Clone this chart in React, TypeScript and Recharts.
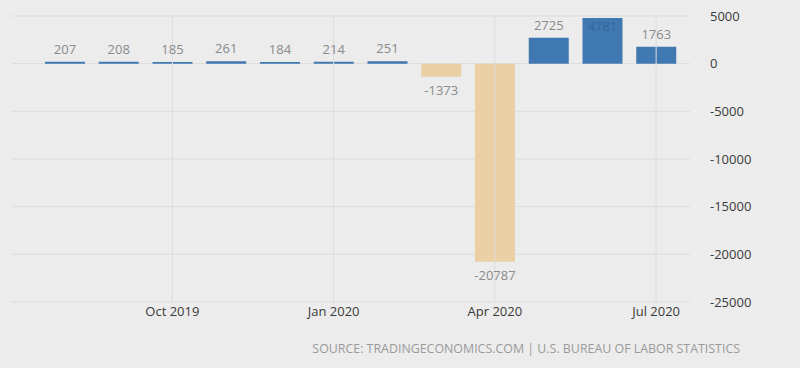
import { BarChart, Bar, XAxis, YAxis, CartesianGrid, Cell, LabelList, ReferenceLine } from 'recharts';

const months = [
  'Aug 2019', 'Sep 2019', 'Oct 2019', 'Nov 2019', 'Dec 2019', 'Jan 2020',
  'Feb 2020', 'Mar 2020', 'Apr 2020', 'May 2020', 'Jun 2020', 'Jul 2020',
];
const payrolls = [207, 208, 185, 261, 184, 214, 251, -1373, -20787, 2725, 4781, 1763];
const xTicks = ['Oct 2019', 'Jan 2020', 'Apr 2020', 'Jul 2020'];
const yTicks = [5000, 0, -5000, -10000, -15000, -20000, -25000];

const data = months.map((m, i) => ({ month: m, value: payrolls[i] }));

const FONT = '"Open Sans", "Noto Sans", sans-serif';

// value label: above positive bars, below negative ones, inside when no room on top
function ValueLabel(props: any) {
  const { x, y, width, height, value } = props;
  const cx = x + width / 2;
  const top = Math.min(y, y + height);
  const bottom = Math.max(y, y + height);
  let ty = value >= 0 ? top - 13 : bottom + 13;
  let fill = '#8a8a8a';
  if (value >= 0 && ty < 20) {
    ty = top + 8;
    fill = '#35689a';
  }
  return (
    <text x={cx} y={ty} textAnchor="middle" dominantBaseline="central" fill={fill} fontSize={13} fontFamily={FONT}>
      {value}
    </text>
  );
}

export default function App() {
  return (
    <div style={{ position: 'fixed', left: 0, top: 0, width: 800, height: 368, background: '#ececec' }}>
      <BarChart width={800} height={368} data={data} margin={{ top: 16, right: 40, left: 12, bottom: 36 }}>
        <CartesianGrid stroke="#dcdcdc" strokeWidth={1} vertical={false} />
        {xTicks.map((t) => (
          <ReferenceLine key={t} x={t} stroke="#dcdcdc" strokeWidth={1} />
        ))}
        <XAxis
          dataKey="month"
          ticks={xTicks}
          interval={0}
          axisLine={false}
          tickLine={false}
          tickSize={0}
          tickMargin={5}
          height={30}
          padding={{ left: 26, right: 7 }}
          tick={{ fill: '#3a3a3a', fontSize: 13, fontFamily: FONT }}
        />
        <YAxis
          orientation="right"
          domain={[-25000, 5000]}
          ticks={yTicks}
          interval={0}
          axisLine={false}
          tickLine={false}
          tickSize={0}
          tickMargin={20}
          width={70}
          tick={{ fill: '#3a3a3a', fontSize: 13, fontFamily: FONT, textAnchor: 'start' }}
        />
        <Bar dataKey="value" barSize={40} isAnimationActive={false}>
          {data.map((d) => (
            <Cell key={d.month} fill={d.value < 0 ? '#ead0a4' : '#4079b1'} />
          ))}
          <LabelList dataKey="value" content={ValueLabel} />
        </Bar>
      </BarChart>
      <div
        style={{
          position: 'absolute',
          right: 60,
          top: 340,
          fontFamily: FONT,
          fontSize: 12.4,
          color: '#9a9a9a',
          whiteSpace: 'nowrap',
        }}
      >
        SOURCE: TRADINGECONOMICS.COM | U.S. BUREAU OF LABOR STATISTICS
      </div>
    </div>
  );
}
